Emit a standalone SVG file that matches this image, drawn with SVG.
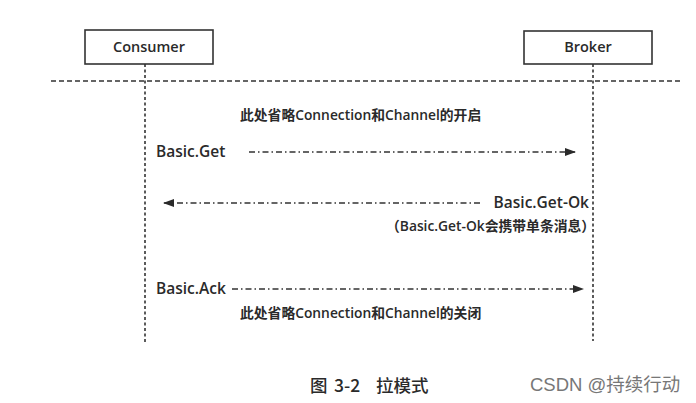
<svg xmlns="http://www.w3.org/2000/svg" width="696" height="403" viewBox="0 0 696 403">
<style>
.box{fill:#fff;stroke:#333;stroke-width:1.6}
.life{stroke:#333;stroke-width:1.6;stroke-dasharray:3 2.5;fill:none}
.sep{stroke:#333;stroke-width:1.3;stroke-dasharray:5 3;fill:none}
.msg{stroke:#333;stroke-width:1.3;stroke-dasharray:6 3 1.5 3;fill:none}
.t{font-family:"Open Sans","Noto Sans CJK SC",sans-serif;fill:#2a2a2a}
.nm{font-size:14.5px;font-weight:600}
.lbl{font-size:15.5px;font-weight:600}
.note{font-size:13.8px;font-weight:600}
.cap{font-family:"Noto Sans CJK SC",sans-serif;font-size:17.5px;font-weight:500;fill:#2a2a2a}
.wm{font-family:"Liberation Sans","Noto Sans CJK SC",sans-serif;font-size:18.5px;fill:#777}
</style>
<defs>
<marker id="ah" markerWidth="11" markerHeight="8" refX="10" refY="4" orient="auto" markerUnits="userSpaceOnUse">
<path d="M0,0 L11,4 L0,8 Z" fill="#2a2a2a"/>
</marker>
</defs>
<rect width="696" height="403" fill="#fff"/>
<g id="connectors">
<line class="life" x1="145" y1="64" x2="145" y2="342"/>
<line class="life" x1="593" y1="64" x2="593" y2="341"/>
<line class="sep" x1="51" y1="81" x2="681" y2="81"/>
<line class="msg" x1="249" y1="152" x2="575" y2="152" marker-end="url(#ah)"/>
<line class="msg" x1="480" y1="203" x2="164" y2="203" marker-end="url(#ah)"/>
<line class="msg" x1="232" y1="289" x2="583" y2="289" marker-end="url(#ah)"/>
</g>
<g id="consumer">
<rect class="box" x="85" y="30" width="128" height="34"/>
<text class="t nm" x="149" y="52" text-anchor="middle">Consumer</text>
</g>
<g id="broker">
<rect class="box" x="524" y="31" width="128" height="33"/>
<text class="t nm" x="588" y="52" text-anchor="middle">Broker</text>
</g>
<g id="labels">
<text class="t note" x="240" y="120">此处省略Connection和Channel的开启</text>
<text class="t lbl" x="156" y="157">Basic.Get</text>
<text class="t lbl" x="589" y="208" text-anchor="end">Basic.Get-Ok</text>
<text class="t note" x="386" y="231">（Basic.Get-Ok会携带单条消息）</text>
<text class="t lbl" x="156" y="294">Basic.Ack</text>
<text class="t note" x="240" y="318">此处省略Connection和Channel的关闭</text>
</g>
<g id="caption">
<text class="cap" x="310" y="392">图</text>
<text class="cap" x="334" y="392">3-2</text>
<text class="cap" x="376" y="392">拉模式</text>
</g>
<text class="wm" x="530" y="391">CSDN @持续行动</text>
</svg>
